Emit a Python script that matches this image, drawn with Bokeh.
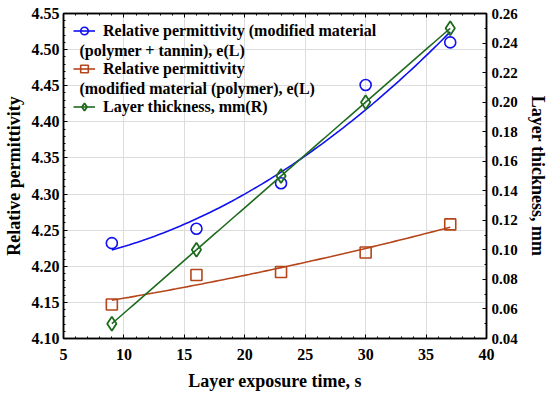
import numpy as np
from bokeh.plotting import figure
from bokeh.models import (Range1d, LinearAxis, SingleIntervalTicker, NumeralTickFormatter,
                          Legend, LegendItem, Label)
from bokeh.embed import file_html
from bokeh.resources import INLINE

# ---- data ----
exposure_time = [9, 16, 23, 30, 37]
perm_tannin = [4.232, 4.252, 4.315, 4.451, 4.510]
perm_polymer = [4.147, 4.188, 4.192, 4.219, 4.258]
thickness = [0.05, 0.10, 0.15, 0.20, 0.25]

x_ticks_interval = 5
left_ticks_interval = 0.05
right_ticks_interval = 0.02

BLUE = "#1010f0"
RED = "#b5451b"
GREEN = "#1e6b1e"
FONT = "Liberation Serif"

p = figure(width=550, height=395, output_backend="svg", toolbar_location=None,
           x_range=Range1d(5, 40), y_range=Range1d(4.10, 4.55),
           min_border_left=62, min_border_right=63, min_border_top=13, min_border_bottom=57)
p.extra_y_ranges = {"r": Range1d(0.04, 0.26)}
bottom = p.below[0]
left = p.left[0]

# fitted curves (computed from the data)
xs = np.linspace(min(exposure_time), max(exposure_time), 80)
fit_b = np.polyval(np.polyfit(exposure_time, perm_tannin, 2), xs)
fit_r = np.polyval(np.polyfit(exposure_time, perm_polymer, 2), xs)
fit_g = np.polyval(np.polyfit(exposure_time, thickness, 2), xs)

lb = p.line(xs, fit_b, line_color=BLUE, line_width=1.6)
sb = p.scatter(exposure_time, perm_tannin, marker="circle", size=11, fill_color=None,
               line_color=BLUE, line_width=1.6)
lr = p.line(xs, fit_r, line_color=RED, line_width=1.6)
sr = p.scatter(exposure_time, perm_polymer, marker="square", size=11, fill_color=None,
               line_color=RED, line_width=1.6)
lg = p.line(xs, fit_g, line_color=GREEN, line_width=1.6, y_range_name="r")
sg = p.scatter(exposure_time, thickness, marker="diamond", size=14, fill_color=None,
               line_color=GREEN, line_width=1.8, y_range_name="r")

# axes
bottom.ticker = SingleIntervalTicker(interval=x_ticks_interval, num_minor_ticks=5)
left.ticker = SingleIntervalTicker(interval=left_ticks_interval, num_minor_ticks=5)
left.formatter = NumeralTickFormatter(format="0.00")
bottom.axis_label = "Layer exposure time, s"
left.axis_label = "Relative permittivity"

raxis = LinearAxis(y_range_name="r",
                   ticker=SingleIntervalTicker(interval=right_ticks_interval, num_minor_ticks=2),
                   formatter=NumeralTickFormatter(format="0.00"),
                   axis_label="Layer thickness, mm")
p.add_layout(raxis, "right")

taxis = LinearAxis(ticker=SingleIntervalTicker(interval=x_ticks_interval, num_minor_ticks=5),
                   major_label_text_font_size="0px", major_label_standoff=0,
                   major_label_text_alpha=0)
p.add_layout(taxis, "above")

for ax in [bottom, left, raxis, taxis]:
    ax.axis_line_color = "black"
    ax.axis_line_width = 1.5
    ax.major_tick_in = 4
    ax.major_tick_out = 0
    ax.minor_tick_in = 2
    ax.minor_tick_out = 0
    ax.major_tick_line_color = "black"
    ax.minor_tick_line_color = "black"
    ax.major_label_text_font = FONT
    ax.major_label_text_font_style = "bold"
    ax.major_label_text_color = "black"
    ax.axis_label_text_font = FONT
    ax.axis_label_text_font_style = "bold"
    ax.axis_label_text_color = "black"
    ax.axis_label_text_font_size = "18px"

bottom.major_label_text_font_size = "16px"
left.major_label_text_font_size = "16px"
raxis.major_label_text_font_size = "15px"

bottom.major_label_standoff = 10
bottom.axis_label_standoff = 8
left.major_label_standoff = 4
left.axis_label_standoff = 5
raxis.major_label_standoff = 5
raxis.axis_label_standoff = 7

p.outline_line_color = "black"
p.outline_line_width = 1.5
p.xgrid.grid_line_color = "#dcdcdc"
p.ygrid.grid_line_color = "#dcdcdc"
p.background_fill_color = "white"
p.border_fill_color = "white"

legend = Legend(items=[
    LegendItem(label="Relative permittivity (modified material", renderers=[lb, sb]),
    LegendItem(label="Relative permittivity", renderers=[lr, sr]),
    LegendItem(label="Layer thickness, mm(R)", renderers=[lg, sg]),
], location=(10, 222), padding=6, margin=0, spacing=19, label_height=19, glyph_height=19,
    glyph_width=22, label_standoff=8, border_line_color=None, background_fill_alpha=0.0,
    label_text_font=FONT, label_text_font_style="bold",
    label_text_font_size="16px", label_text_color="black")
p.add_layout(legend, "center")

for txt, yy in [("(polymer + tannin), e(L)", 4.4988), ("(modified material (polymer), e(L)", 4.4460)]:
    p.add_layout(Label(x=6.32, y=yy, text=txt,
                       text_font=FONT, text_font_style="bold", text_font_size="16px",
                       text_baseline="middle", text_color="black"))

open("out.html", "w").write(file_html(p, INLINE))
